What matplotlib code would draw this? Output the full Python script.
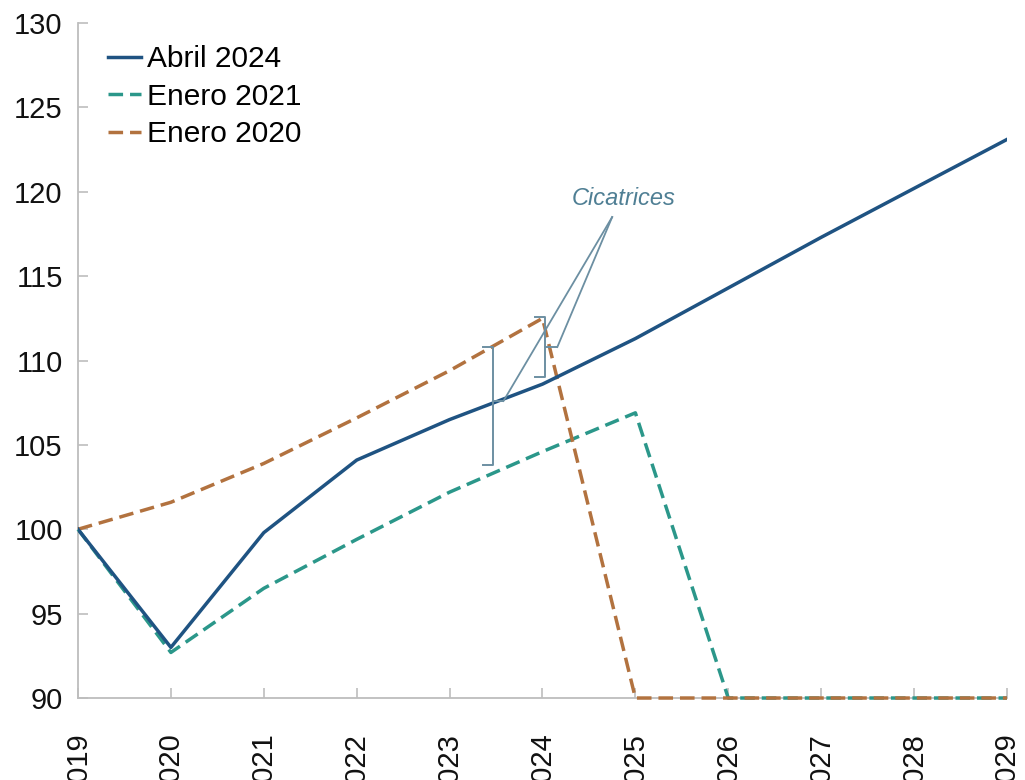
import matplotlib.pyplot as plt

plt.rcParams['font.family'] = ['Liberation Sans', 'DejaVu Sans']

years = [2019, 2020, 2021, 2022, 2023, 2024, 2025, 2026, 2027, 2028, 2029]
abril_2024 = [100.0, 93.0, 99.8, 104.1, 106.5, 108.6, 111.3, 114.3, 117.3, 120.2, 123.1]
enero_2021 = [100.0, 92.7, 96.5, 99.4, 102.2, 104.6, 106.9, 90.0, 90.0, 90.0, 90.0]
enero_2020 = [100.0, 101.6, 103.9, 106.6, 109.4, 112.5, 90.0, 90.0, 90.0, 90.0, 90.0]

c_blue = '#1f5382'
c_teal = '#2b978a'
c_brown = '#b2723f'
c_note = '#6c8fa2'

fig = plt.figure(figsize=(10.25, 7.8), dpi=100)
ax = fig.add_axes([0.0761, 0.1051, 0.9063, 0.8654])

ax.plot(years, abril_2024, color=c_blue, lw=2.5, label='Abril 2024', zorder=4)
ax.plot(years, enero_2021, color=c_teal, lw=2.5, dashes=(4.2, 2.0),
        label='Enero 2021', clip_on=False, zorder=3)
ax.plot(years, enero_2020, color=c_brown, lw=2.5, dashes=(4.2, 2.0),
        label='Enero 2020', clip_on=False, zorder=3)

ax.set_xlim(2019, 2029)
ax.set_ylim(90, 130)
ax.set_xticks(years)
ax.set_xticklabels([str(y) for y in years], rotation=90)
ax.set_yticks(range(90, 131, 5))

for s in ['top', 'right']:
    ax.spines[s].set_visible(False)
for s in ['left', 'bottom']:
    ax.spines[s].set_color('#bdbdbd')
    ax.spines[s].set_linewidth(1.3)
ax.tick_params(axis='both', direction='in', length=7.5, width=1.2,
               color='#bdbdbd', labelsize=21, labelcolor='#111111')
ax.tick_params(axis='y', pad=11)
ax.tick_params(axis='x', pad=25)

# brackets marking the gap between vintages
def brace(x, top, bottom, mid, dx_out, dx_mid):
    ax.plot([x - dx_out, x, x, x - dx_out], [top, top, bottom, bottom],
            color=c_note, lw=1.4, zorder=5)
    ax.plot([x, x + dx_mid], [mid, mid], color=c_note, lw=1.4, zorder=5)

brace(2023.47, 110.8, 103.8, 107.6, 0.11, 0.11)
brace(2024.03, 112.6, 109.0, 110.8, 0.11, 0.13)

apex = (2024.75, 118.5)
for tip in [(2023.58, 107.6), (2024.16, 110.8)]:
    ax.plot([apex[0], tip[0]], [apex[1], tip[1]], color=c_note, lw=1.3, zorder=5)
ax.text(2024.87, 119.6, 'Cicatrices', color='#4f7f94', fontsize=17,
        style='italic', ha='center', va='center')

ax.legend(loc='upper left', bbox_to_anchor=(0.032, 0.967), frameon=False,
          fontsize=21.5, handlelength=1.1, handletextpad=0.2,
          labelspacing=0.32, borderpad=0, borderaxespad=0)

fig.savefig('out.png', dpi=100)
